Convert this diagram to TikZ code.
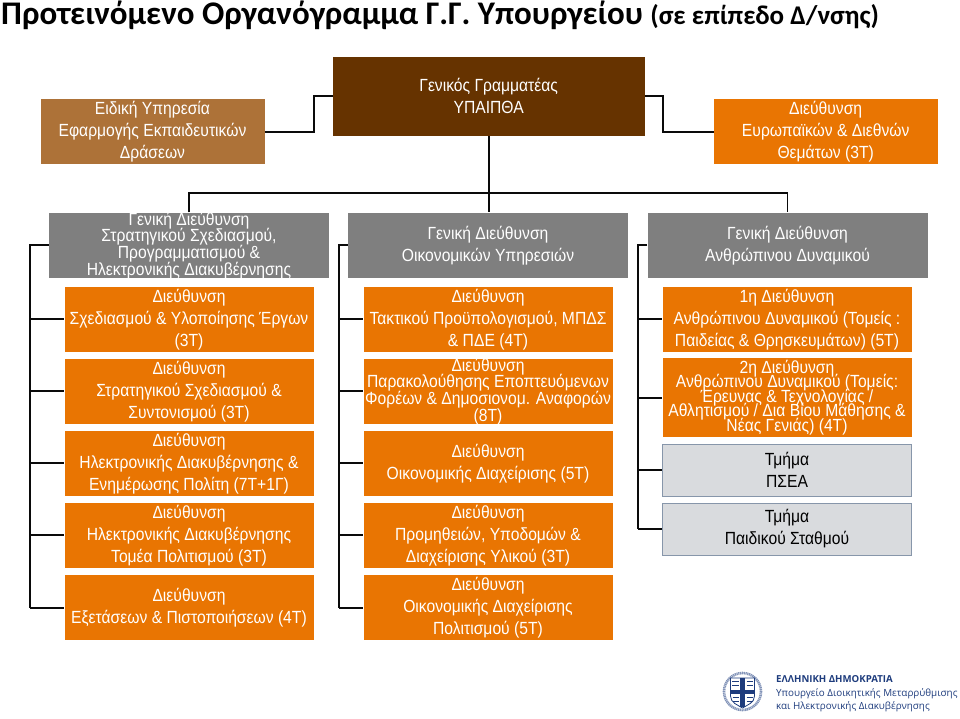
\documentclass[tikz,border=0pt]{standalone}
\usepackage{fontspec}
\setmainfont[FakeStretch=0.89]{Liberation Sans}
\newfontfamily\titlefont{Carlito}
\newfontfamily\logofont{Open Sans}
\usetikzlibrary{positioning,calc}
\lineskiplimit=-20pt
\definecolor{ink}{RGB}{10,10,10}
\definecolor{chief}{RGB}{102,51,0}
\definecolor{special}{RGB}{173,114,56}
\definecolor{unitfill}{RGB}{233,117,2}
\definecolor{general}{RGB}{127,127,127}
\definecolor{office}{RGB}{217,219,222}
\definecolor{officeline}{RGB}{135,150,170}
\definecolor{logoblue}{RGB}{30,60,125}
\tikzset{
  link/.style={line width=1.8pt, draw=ink},
  box/.style={inner xsep=0pt, inner ysep=-6pt, align=center, text=white, font=\fontsize{17.6}{22}\selectfont},
  chiefbox/.style={box, fill=chief, minimum width=312pt, minimum height=79pt},
  sidebox/.style={box, minimum width=224pt, minimum height=65.3pt},
  generalbox/.style={box, fill=general, minimum width=280pt, minimum height=65.3pt},
  unitbox/.style={box, fill=unitfill, minimum width=249pt, minimum height=65.3pt},
  officebox/.style={box, fill=office, draw=officeline, line width=0.8pt, text=black, minimum width=249pt, minimum height=52pt},
  tight/.style={font=\fontsize{17.6}{16.7}\selectfont},
  tighter/.style={font=\fontsize{17.6}{14.5}\selectfont},
  logotext/.style={anchor=west, inner sep=0pt, text=logoblue, font=\logofont\fontsize{9.85}{12}\selectfont},
}

\begin{document}
\begin{tikzpicture}[x=1pt,y=-1pt]
  \useasboundingbox (0,0) rectangle (960,718);

  % Title
  \node[anchor=west, inner sep=0pt, text=black] (title) at (1,15.5) {\titlefont\bfseries\fontsize{33}{34}\selectfont Προτεινόμενο Οργανόγραμμα Γ.Γ. Υπουργείου \fontsize{27}{34}\selectfont (σε επίπεδο Δ/νσης)};

  % Top row
  \node[chiefbox] (gs) at (488.7,96.3) {Γενικός Γραμματέας\\ΥΠΑΙΠΘΑ};
  \node[sidebox, fill=special] (spec) at (152.5,131.6) {Ειδική Υπηρεσία\\Εφαρμογής  Εκπαιδευτικών\\Δράσεων};
  \node[sidebox, fill=unitfill] (eur) at (825.7,131.6) {Διεύθυνση\\Ευρωπαϊκών \& Διεθνών\\Θεμάτων (3Τ)};

  % General directorates
  \node[generalbox, tight] (gdA) at (189,245.3) {Γενική Διεύθυνση\\Στρατηγικού Σχεδιασμού,\\Προγραμματισμού \&\\Ηλεκτρονικής Διακυβέρνησης};
  \node[generalbox] (gdB) at (488,245.3) {Γενική Διεύθυνση\\Οικονομικών Υπηρεσιών};
  \node[generalbox] (gdC) at (787.5,245.3) {Γενική Διεύθυνση\\Ανθρώπινου Δυναμικού};

  % First column
  \node[unitbox] (dA1) at (189,319.3) {Διεύθυνση\\Σχεδιασμού \& Υλοποίησης Έργων\\(3Τ)};
  \node[unitbox] (dA2) at (189,391.3) {Διεύθυνση\\Στρατηγικού Σχεδιασμού \&\\Συντονισμού (3Τ)};
  \node[unitbox] (dA3) at (189,463.2) {Διεύθυνση\\Ηλεκτρονικής Διακυβέρνησης \&\\Ενημέρωσης Πολίτη (7Τ+1Γ)};
  \node[unitbox] (dA4) at (189,535.3) {Διεύθυνση\\Ηλεκτρονικής Διακυβέρνησης\\Τομέα Πολιτισμού (3Τ)};
  \node[unitbox] (dA5) at (189,607.7) {Διεύθυνση\\Εξετάσεων \& Πιστοποιήσεων (4Τ)};

  % Second column
  \node[unitbox] (dB1) at (488,319.3) {Διεύθυνση\\Τακτικού Προϋπολογισμού, ΜΠΔΣ\\\& ΠΔΕ (4Τ)};
  \node[unitbox, tight] (dB2) at (488,391.3) {Διεύθυνση\\Παρακολούθησης Εποπτευόμενων\\Φορέων \& Δημοσιονομ. Αναφορών\\(8Τ)};
  \node[unitbox] (dB3) at (488,463.2) {Διεύθυνση\\Οικονομικής Διαχείρισης (5Τ)};
  \node[unitbox] (dB4) at (488,535.3) {Διεύθυνση\\Προμηθειών, Υποδομών \&\\Διαχείρισης Υλικού  (3Τ)};
  \node[unitbox] (dB5) at (488,607.7) {Διεύθυνση\\Οικονομικής  Διαχείρισης\\Πολιτισμού (5Τ)};

  % Third column
  \node[unitbox] (dC1) at (787,319.3) {1η Διεύθυνση\\Ανθρώπινου Δυναμικού (Τομείς :\\Παιδείας \& Θρησκευμάτων) (5Τ)};
  \node[unitbox, tighter, minimum height=78.7pt] (dC2) at (787,397.6) {2η Διεύθυνση\\Ανθρώπινου Δυναμικού (Τομείς:\\Έρευνας \& Τεχνολογίας  /\\Αθλητισμού / Δια Βίου Μάθησης \&\\Νέας Γενιάς)  (4Τ)};
  \node[officebox] (dC3) at (787,470) {Τμήμα\\ΠΣΕΑ};
  \node[officebox] (dC4) at (787,529) {Τμήμα\\Παιδικού Σταθμού};

  % Connections
  \coordinate (jogL) at (314,0);
  \coordinate (jogR) at (663,0);
  \coordinate (bus) at (0,192.7);
  \coordinate (trunkA) at (30,0);
  \coordinate (trunkB) at (339,0);
  \coordinate (trunkC) at (638,0);

  \draw[link] (spec.east) -- (jogL |- spec.east) -- (jogL |- gs.west) -- (gs.west);
  \draw[link] (eur.west) -- (jogR |- eur.west) -- (jogR |- gs.east) -- (gs.east);
  \draw[link] (gs.south) -- (gs.south |- gdB.north);
  \draw[link] (gdA.north) -- (gdA.north |- bus) -- (gdC.north |- bus) -- (gdC.north);

  \draw[link] (gdA.west) -- (trunkA |- gdA.west) -- (trunkA |- dA5.west);
  \draw[link] (gdB.west) -- (trunkB |- gdB.west) -- (trunkB |- dB5.west);
  \draw[link] (gdC.west) -- (trunkC |- gdC.west) -- (trunkC |- dC4.west);
  \foreach \n in {1,...,5} {
    \draw[link] (trunkA |- dA\n.west) -- (dA\n.west);
    \draw[link] (trunkB |- dB\n.west) -- (dB\n.west);
  }
  \foreach \n in {1,...,4} {
    \draw[link] (trunkC |- dC\n.west) -- (dC\n.west);
  }

  % Ministry logo
  \draw[logoblue!55, line width=2.6pt, dash pattern=on 1.2pt off 0.6pt] (742.5,691.5) circle (18.5);
  \draw[logoblue, line width=0.8pt, fill=white] (730.5,678) -- (754.5,678) -- (754.5,696) .. controls (754.5,703) and (747,705) .. (742.5,708) .. controls (738,705) and (730.5,703) .. (730.5,696) -- cycle;
  \fill[logoblue] (740.3,678) rectangle (744.7,707);
  \fill[logoblue] (730.5,690) rectangle (754.5,694);
  \foreach \y in {681,685} {
    \draw[logoblue, line width=1pt] (732,\y) -- (738.5,\y) (746.5,\y) -- (753,\y);
  }
  \foreach \y in {697,701} {
    \draw[logoblue, line width=1pt] (732.5,\y) -- (738.5,\y) (746.5,\y) -- (752.5,\y);
  }
  \node[logotext, font=\logofont\bfseries\fontsize{9.65}{12}\selectfont] (logoA) at (776,679.5) {ΕΛΛΗΝΙΚΗ ΔΗΜΟΚΡΑΤΙΑ};
  \node[logotext] (logoB) at (776,693.5) {Υπουργείο Διοικητικής Μεταρρύθμισης};
  \node[logotext] (logoC) at (776,707) {και Ηλεκτρονικής Διακυβέρνησης};
\end{tikzpicture}
\end{document}
